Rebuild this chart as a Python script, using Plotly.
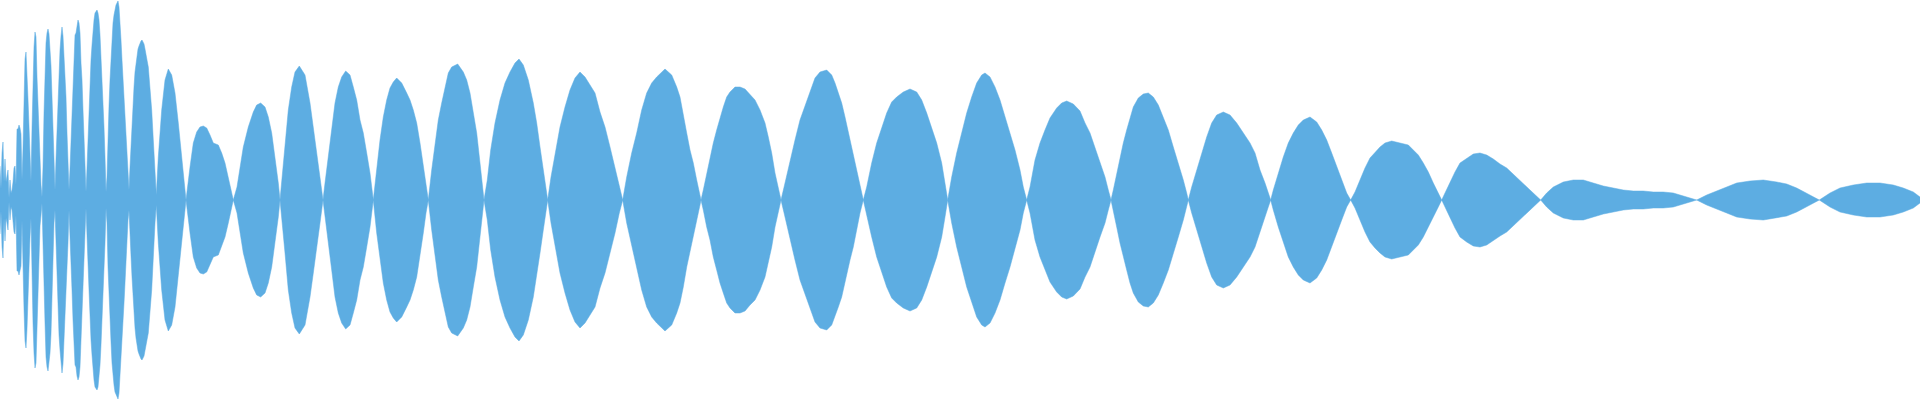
import plotly.graph_objects as go

# Sample positions (time index) and waveform envelope amplitude
sample_pos = [
    0, 1, 2, 3, 4, 5, 6, 7, 8, 9, 10, 11, 12, 13, 14, 15, 16, 17, 18, 19,
    20, 21, 22, 23, 24, 25, 26, 27, 28, 29, 30, 31, 32, 33, 34, 35, 36, 37, 38, 39,
    40, 41, 42, 43, 44, 45, 46, 47, 48, 49, 50, 51, 52, 53, 54, 55, 56, 57, 58, 59,
    60, 61, 62, 63, 64, 65, 66, 67, 68, 69, 70, 71, 72, 73, 74, 75, 76, 77, 78, 79,
    80, 81, 82, 83, 84, 85, 86, 87, 88, 89, 90, 91, 92, 93, 94, 95, 96, 97, 98, 99,
    100, 101, 102, 103, 104, 105, 106, 107, 108, 109, 110, 111, 112, 113, 114, 115, 116, 117, 118, 119,
    120, 121, 122, 123, 124, 125, 126, 127, 128, 129, 130, 131, 132, 133, 134, 135, 136, 137, 138, 139,
    140, 141, 142, 143, 144, 145, 146, 147,
    148.3, 151.7, 153.3, 155, 156.3,
    158.3, 161.7, 165, 168.3, 171.7, 175, 178.3, 181.7, 185, 186,
    190, 193.3, 196.7, 200, 203.3, 206.7, 210, 213.3, 218.3, 221.7, 225, 228.3, 231.7, 233.3,
    237, 240, 243.3, 248.3, 253.3, 256.7, 260.7, 265, 268.3, 271.7, 275, 278.3, 280,
    281.7, 285, 288.3, 291.7, 295, 299.3, 305, 310, 313.3, 316.7, 320, 323,
    325, 328.3, 331.7, 335, 338.3, 341.7, 345.7, 350, 353.3, 356.7, 360, 363.3, 366.7, 370, 373.3,
    376.7, 380, 383.3, 386.7, 390, 393.3, 396.7, 401.7, 406.7, 410, 413.3, 416.7, 420, 423.3, 426, 428.3,
    431.7, 435, 438.3, 441.7, 445, 448.3, 451.7, 457.7, 463.3, 466.7, 470, 473.3, 476.7, 480, 482.3, 484,
    487.3, 490.7, 495, 500, 505, 510, 515, 519, 523.3, 528.3, 533.3, 536.7, 540, 543.3, 546, 547.7,
    551, 555, 560, 565, 570, 575, 580, 585, 590, 595, 600, 605, 610, 615, 619.3, 622.7,
    626.7, 631.7, 636.7, 641.7, 646.7, 651.7, 656.7, 665, 671.7, 676.7, 680, 683.3, 686.7, 690, 693.3, 696.7, 700, 701,
    703.3, 706.7, 710, 713.3, 716.7, 720, 723.3, 726.7, 730, 735, 740, 745, 750, 755, 760, 765, 768.3, 771.7, 775, 778.3, 781,
    785, 790, 795, 800, 805, 810, 815, 820, 826.7, 831.7, 835, 838.3, 841.7, 845, 850, 853.3, 856.7, 860, 863.3,
    866.7, 871.7, 876.7, 881.7, 886.7, 891.7, 896.7, 903.3, 910, 916.7, 921.7, 926.7, 931.7, 936.7, 941.7, 945, 947.7,
    951.7, 956.7, 961.7, 966.7, 971.7, 976.7, 981.7, 985, 990, 995, 1000, 1005, 1010, 1015, 1020, 1023.3, 1026.7,
    1030, 1035, 1040, 1045, 1050, 1056.7, 1061.7, 1066.7, 1073.3, 1080, 1085, 1090, 1095, 1100, 1105, 1108.3, 1111,
    1113.3, 1116.7, 1120, 1123.3, 1126.7, 1130, 1133.3, 1138.3, 1143.3, 1148.3, 1153.3, 1158.3, 1163.3, 1168.3, 1173.3, 1178.3, 1183.3, 1186.7, 1188.3,
    1191.7, 1196.7, 1201.7, 1206.7, 1211.7, 1216.7, 1223.3, 1230, 1236.7, 1243.3, 1250, 1255, 1260, 1265, 1268.3, 1270.7,
    1273.3, 1278.3, 1283.3, 1288.3, 1293.3, 1298.3, 1303.3, 1310, 1316.7, 1321.7, 1326.7, 1331.7, 1336.7, 1341.7, 1346.7, 1350.7,
    1355, 1360, 1365, 1370, 1375, 1380, 1385, 1391.7, 1400, 1408.3, 1413.3, 1418.3, 1423.3, 1428.3, 1433.3, 1438.3, 1441.7,
    1445, 1450, 1455, 1460, 1466.7, 1473.3, 1480, 1486.7, 1493.3, 1500, 1506.7, 1513.3, 1520, 1530, 1540.7,
    1546.7, 1553.3, 1563.3, 1573.3, 1583.3, 1593.3, 1603.3, 1613.3, 1623.3, 1633.3, 1643.3, 1653.3, 1663.3, 1673.3, 1683.3, 1696.7,
    1706.7, 1716.7, 1726.7, 1736.7, 1750, 1763.3, 1776.7, 1786.7, 1796.7, 1806.7, 1819.3,
    1830, 1840, 1853.3, 1866.7, 1880, 1893.3, 1903.3, 1913.3, 1920,
]

envelope = [
    34, 11, 47, 58, 18, 41, 18, 23, 30, 2, 20, 7, 10, 18, 32, 34, 15, 71, 71, 75,
    72, 66, 20, 52, 109, 141, 148, 129, 101, 74, 37, 18, 72, 123, 153, 168, 163, 123, 94, 60,
    26, 15, 3, 33, 87, 123, 157, 167, 171, 166, 153, 134, 103, 67, 23, 10, 41, 73, 103, 135,
    150, 164, 173, 164, 147, 125, 103, 67, 43, 10, 31, 57, 90, 120, 147, 165, 167, 176, 180, 177,
    167, 137, 120, 90, 60, 33, 8, 32, 63, 90, 120, 140, 155, 170, 180, 187, 188, 190, 187, 180,
    165, 145, 122, 95, 73, 43, 8, 23, 67, 94, 120, 142, 163, 177, 185, 192, 195, 197, 199, 193,
    180, 160, 140, 120, 103, 83, 63, 37, 20, 10, 33, 56, 77, 97, 113, 128, 138, 145, 151, 154,
    157, 159, 160, 158, 156, 151, 147, 140,
    133, 90, 60, 23, 5,
    43, 90, 120, 131, 125, 107, 77, 43, 10, 0,
    33, 57, 68, 73, 74, 72, 65, 57, 55, 47, 37, 23, 8, 0,
    13, 33, 53, 73, 88, 95, 97, 93, 83, 67, 43, 17, 0,
    18, 53, 90, 113, 128, 134, 125, 97, 73, 50, 23, 0,
    17, 43, 70, 97, 113, 123, 129, 125, 113, 100, 80, 67, 47, 27, 0,
    33, 60, 83, 100, 112, 118, 122, 117, 107, 100, 90, 77, 57, 33, 13, 0,
    30, 57, 80, 97, 113, 127, 133, 136, 128, 120, 107, 87, 67, 37, 17, 0,
    20, 50, 77, 100, 117, 128, 137, 141, 135, 120, 97, 77, 53, 30, 10, 0,
    23, 47, 73, 93, 110, 122, 128, 123, 115, 107, 88, 73, 53, 33, 13, 0,
    23, 47, 67, 90, 107, 117, 123, 131, 125, 113, 103, 87, 67, 50, 37, 20, 5, 0,
    10, 27, 40, 57, 70, 83, 93, 103, 108, 113, 113, 111, 105, 100, 90, 77, 63, 47, 27, 12, 0,
    17, 40, 60, 80, 93, 108, 122, 128, 130, 125, 117, 107, 97, 83, 60, 47, 30, 13, 0,
    13, 37, 57, 73, 87, 98, 103, 108, 111, 108, 100, 87, 73, 57, 37, 17, 0,
    23, 47, 67, 87, 103, 117, 125, 127, 123, 113, 100, 83, 67, 50, 30, 13, 0,
    13, 40, 57, 70, 82, 92, 97, 99, 96, 89, 77, 67, 52, 37, 23, 10, 0,
    10, 27, 43, 57, 70, 83, 93, 102, 106, 107, 103, 95, 83, 70, 53, 37, 20, 7, 0,
    13, 30, 47, 63, 77, 85, 88, 85, 77, 67, 57, 47, 30, 17, 7, 0,
    10, 27, 43, 57, 67, 75, 80, 83, 78, 70, 60, 47, 33, 20, 7, 0,
    8, 20, 32, 42, 48, 53, 57, 59, 57, 55, 50, 45, 37, 28, 17, 7, 0,
    7, 18, 28, 37, 42, 46, 47, 45, 41, 36, 32, 26, 20, 10, 0,
    7, 13, 18, 20, 20, 17, 14, 12, 10, 9, 9, 8, 8, 7, 4, 0,
    5, 9, 13, 17, 19, 20, 18, 16, 12, 7, 0,
    7, 12, 15, 17, 17, 15, 12, 8, 3,
]

fill_color = "#5DADE2"

poly_x = sample_pos + sample_pos[::-1]
poly_y = envelope + [-v for v in envelope[::-1]]

fig = go.Figure(
    go.Scatter(
        x=poly_x,
        y=poly_y,
        mode="lines",
        fill="toself",
        fillcolor=fill_color,
        line=dict(color=fill_color, width=0.5),
        hoverinfo="skip",
    )
)

fig.update_layout(
    width=1920,
    height=400,
    margin=dict(l=0, r=0, t=0, b=0, pad=0),
    paper_bgcolor="white",
    plot_bgcolor="white",
    showlegend=False,
    xaxis=dict(range=[0, 1920], visible=False, fixedrange=True),
    yaxis=dict(range=[-200, 200], visible=False, fixedrange=True),
)

fig.write_html(
    "out.html",
    config={"displayModeBar": False},
    post_script="document.body.style.margin='0';",
)
